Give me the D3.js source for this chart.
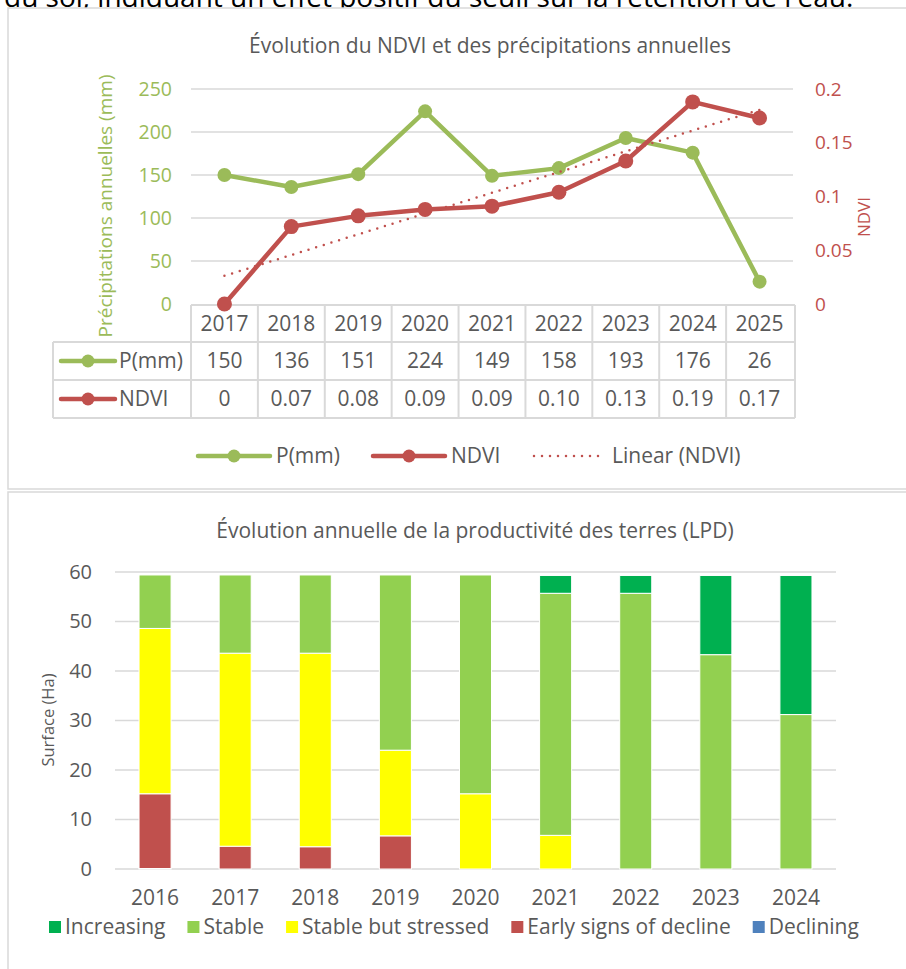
<!DOCTYPE html>
<html>
<head>
<meta charset="utf-8">
<script src="https://cdn.jsdelivr.net/npm/d3@7"></script>
<style>
  body { margin: 0; background: #fff; }
  text { font-family: "Open Sans", sans-serif; fill: #595959; }
</style>
</head>
<body>
<script>
// ---- data ----
var ndviYears = ["2017", "2018", "2019", "2020", "2021", "2022", "2023", "2024", "2025"];
var precip = [150, 136, 151, 224, 149, 158, 193, 176, 26];
var ndvi = [0, 0.072, 0.082, 0.088, 0.091, 0.104, 0.133, 0.188, 0.173];
var precipTicks = [0, 50, 100, 150, 200, 250];
var ndviTicks = [0, 0.05, 0.1, 0.15, 0.2];

var lpdYears = ["2016", "2017", "2018", "2019", "2020", "2021", "2022", "2023", "2024"];
var increasing = [0, 0, 0, 0, 0, 3.6, 3.6, 16.0, 28.1];
var stable = [10.8, 15.8, 15.8, 35.4, 44.2, 48.9, 55.7, 43.3, 31.2];
var stressed = [33.4, 39.0, 39.1, 17.3, 15.2, 6.8, 0, 0, 0];
var earlyDecline = [15.1, 4.6, 4.5, 6.7, 0, 0, 0, 0, 0];
var declining = [0.1, 0, 0, 0, 0, 0, 0, 0, 0];
var lpdClasses = ["Increasing", "Stable", "Stable but stressed", "Early signs of decline", "Declining"];
var lpdColors = ["#00B050", "#92D050", "#FFFF00", "#C0504D", "#4F81BD"];

var green = "#9BBB59";
var red = "#C0504D";
var grid = "#D9D9D9";

var svgWidth = 906;
var svgHeight = 969;

var svg = d3.select("body")
    .append("svg")
    .attr("width", svgWidth)
    .attr("height", svgHeight);

// text from the page above, cut off at the top
svg.append("text")
    .attr("x", 4)
    .attr("y", 7)
    .style("fill", "#000")
    .style("font-size", "28px")
    .text("du sol, indiquant un effet positif du seuil sur la rétention de l'eau.");

// panels
svg.append("rect").attr("x", 8).attr("y", 8).attr("width", 910).attr("height", 481)
    .attr("fill", "#fff").attr("stroke", grid).attr("stroke-width", 1.5);
svg.append("rect").attr("x", 8).attr("y", 492).attr("width", 910).attr("height", 490)
    .attr("fill", "#fff").attr("stroke", grid).attr("stroke-width", 1.5);

// ============ CHART 1 : NDVI + precipitation ============
var x1 = d3.scaleBand().domain(ndviYears).range([191, 793]);
var yP = d3.scaleLinear().domain([0, 250]).range([304, 89]);
var yN = d3.scaleLinear().domain([0, 0.2]).range([304, 89]);

svg.append("text")
    .attr("x", 490).attr("y", 53)
    .attr("text-anchor", "middle")
    .style("font-size", "21px")
    .text("Évolution du NDVI et des précipitations annuelles");

// gridlines
svg.append("g").selectAll("line")
    .data(precipTicks.slice(1))
    .enter().append("line")
    .attr("x1", 191).attr("x2", 793)
    .attr("y1", d => yP(d)).attr("y2", d => yP(d))
    .attr("stroke", grid).attr("stroke-width", 1.5);

// left axis
var leftAxis = d3.axisLeft(yP).tickValues(precipTicks).tickSize(0).tickPadding(19);
var leftG = svg.append("g").attr("transform", "translate(191,0)").call(leftAxis);
leftG.select(".domain").remove();
leftG.selectAll("text").style("fill", green).style("font-size", "19.5px").attr("font-family", null);

// right axis
var rightAxis = d3.axisRight(yN).tickValues(ndviTicks).tickSize(0).tickPadding(22).tickFormat(d3.format("~g"));
var rightG = svg.append("g").attr("transform", "translate(793,0)").call(rightAxis);
rightG.select(".domain").remove();
rightG.selectAll("text").style("fill", red).style("font-size", "19px").attr("font-family", null);

svg.append("text")
    .attr("transform", "translate(112,206) rotate(-90)")
    .attr("text-anchor", "middle")
    .style("fill", green).style("font-size", "19px")
    .text("Précipitations annuelles (mm)");

svg.append("text")
    .attr("transform", "translate(870,217) rotate(-90)")
    .attr("text-anchor", "middle")
    .style("fill", red).style("font-size", "17px")
    .text("NDVI");

// data table
var rowTop = [305, 342, 380, 418];
var tableG = svg.append("g");
tableG.append("line").attr("x1", 191).attr("x2", 795).attr("y1", rowTop[0]).attr("y2", rowTop[0]);
[1, 2, 3].forEach(i => {
    tableG.append("line").attr("x1", 53).attr("x2", 795).attr("y1", rowTop[i]).attr("y2", rowTop[i]);
});
ndviYears.forEach(function (yr) {
    var xl = x1(yr);
    tableG.append("line").attr("x1", xl).attr("x2", xl).attr("y1", rowTop[0]).attr("y2", rowTop[3]);
});
tableG.append("line").attr("x1", 795).attr("x2", 795).attr("y1", rowTop[0]).attr("y2", rowTop[3]);
tableG.append("line").attr("x1", 53).attr("x2", 53).attr("y1", rowTop[1]).attr("y2", rowTop[3]);
tableG.selectAll("line").attr("stroke", grid).attr("stroke-width", 2);

tableG.selectAll(".yr").data(ndviYears).enter().append("text")
    .attr("x", d => x1(d) + x1.bandwidth() / 2)
    .attr("y", (rowTop[0] + rowTop[1]) / 2)
    .attr("dy", "0.35em").attr("text-anchor", "middle")
    .style("font-size", "21px")
    .text(d => d);

tableG.selectAll(".pv").data(precip).enter().append("text")
    .attr("x", (d, i) => x1(ndviYears[i]) + x1.bandwidth() / 2)
    .attr("y", (rowTop[1] + rowTop[2]) / 2)
    .attr("dy", "0.35em").attr("text-anchor", "middle")
    .style("font-size", "21px")
    .text(d => d);

tableG.selectAll(".nv").data(ndvi).enter().append("text")
    .attr("x", (d, i) => x1(ndviYears[i]) + x1.bandwidth() / 2)
    .attr("y", (rowTop[2] + rowTop[3]) / 2)
    .attr("dy", "0.35em").attr("text-anchor", "middle")
    .style("font-size", "21px")
    .text(d => d === 0 ? "0" : d.toFixed(2));

function legendKey(g, x, y, color, label, len, gap, dotted) {
    if (dotted) {
        g.append("line").attr("x1", x).attr("x2", x + len).attr("y1", y).attr("y2", y)
            .attr("stroke", color).attr("stroke-width", 2.5)
            .attr("stroke-dasharray", "0,8").attr("stroke-linecap", "round");
    } else {
        g.append("line").attr("x1", x).attr("x2", x + len).attr("y1", y).attr("y2", y)
            .attr("stroke", color).attr("stroke-width", 4.5).attr("stroke-linecap", "round");
        g.append("circle").attr("cx", x + len / 2).attr("cy", y).attr("r", 6.5).attr("fill", color);
    }
    g.append("text").attr("x", x + len + gap).attr("y", y).attr("dy", "0.35em")
        .style("font-size", "21px").text(label);
}

legendKey(tableG, 61, (rowTop[1] + rowTop[2]) / 2, green, "P(mm)", 54, 4);
legendKey(tableG, 61, (rowTop[2] + rowTop[3]) / 2, red, "NDVI", 54, 4);

// lines
var cx = d => x1(d) + x1.bandwidth() / 2;

var precipLine = d3.line().x((d, i) => cx(ndviYears[i])).y(d => yP(d));
var ndviLine = d3.line().x((d, i) => cx(ndviYears[i])).y(d => yN(d));

svg.append("path").datum(precip)
    .attr("d", precipLine).attr("fill", "none")
    .attr("stroke", green).attr("stroke-width", 4.5).attr("stroke-linejoin", "round");
svg.append("g").selectAll("circle").data(precip).enter().append("circle")
    .attr("cx", (d, i) => cx(ndviYears[i])).attr("cy", d => yP(d)).attr("r", 7).attr("fill", green);

svg.append("path").datum(ndvi)
    .attr("d", ndviLine).attr("fill", "none")
    .attr("stroke", red).attr("stroke-width", 4.5).attr("stroke-linejoin", "round");
svg.append("g").selectAll("circle").data(ndvi).enter().append("circle")
    .attr("cx", (d, i) => cx(ndviYears[i])).attr("cy", d => yN(d)).attr("r", 7.5).attr("fill", red);

// linear trend of NDVI (least squares, x = 1..n)
var n = ndvi.length;
var xs = d3.range(1, n + 1);
var mx = d3.mean(xs), my = d3.mean(ndvi);
var slope = d3.sum(xs, (xv, i) => (xv - mx) * (ndvi[i] - my)) / d3.sum(xs, xv => (xv - mx) * (xv - mx));
var icpt = my - slope * mx;
svg.append("line")
    .attr("x1", cx(ndviYears[0])).attr("y1", yN(icpt + slope * 1))
    .attr("x2", cx(ndviYears[n - 1])).attr("y2", yN(icpt + slope * n))
    .attr("stroke", red).attr("stroke-width", 2.5)
    .attr("stroke-dasharray", "0,8").attr("stroke-linecap", "round");

// bottom legend
var leg1 = svg.append("g");
legendKey(leg1, 198, 456, green, "P(mm)", 72, 6);
legendKey(leg1, 373, 456, red, "NDVI", 72, 6);
legendKey(leg1, 534, 456, red, "Linear (NDVI)", 70, 8, true);

// ============ CHART 2 : LPD stacked bars ============
var x2 = d3.scaleBand().domain(lpdYears).range([115, 836]).paddingInner(0.6).paddingOuter(0.3);
var y2 = d3.scaleLinear().domain([0, 60]).range([869, 572]);

svg.append("text")
    .attr("x", 475).attr("y", 538)
    .attr("text-anchor", "middle")
    .style("font-size", "21px")
    .text("Évolution annuelle de la productivité des terres (LPD)");

svg.append("g").selectAll("line")
    .data(y2.ticks(6))
    .enter().append("line")
    .attr("x1", 115).attr("x2", 836)
    .attr("y1", d => y2(d)).attr("y2", d => y2(d))
    .attr("stroke", grid).attr("stroke-width", 1.5);

var axisL2 = d3.axisLeft(y2).ticks(6).tickSize(0).tickPadding(23);
var l2 = svg.append("g").attr("transform", "translate(115,0)").call(axisL2);
l2.select(".domain").remove();
l2.selectAll("text").style("font-size", "20px").attr("font-family", null);

var axisB2 = d3.axisBottom(x2).tickSize(0).tickPadding(21);
var b2 = svg.append("g").attr("transform", "translate(0,869)").call(axisB2);
b2.select(".domain").remove();
b2.selectAll("text").style("font-size", "21px").attr("font-family", null);

svg.append("text")
    .attr("transform", "translate(54,720) rotate(-90)")
    .attr("text-anchor", "middle")
    .style("font-size", "16.5px")
    .text("Surface (Ha)");

var table2 = lpdYears.map((yr, i) => ({
    year: yr,
    "Declining": declining[i],
    "Early signs of decline": earlyDecline[i],
    "Stable but stressed": stressed[i],
    "Stable": stable[i],
    "Increasing": increasing[i]
}));
var stackOrder = ["Declining", "Early signs of decline", "Stable but stressed", "Stable", "Increasing"];
var series = d3.stack().keys(stackOrder)(table2);
var colorOf = d3.scaleOrdinal().domain(lpdClasses).range(lpdColors);

svg.append("g").selectAll("g")
    .data(series)
    .enter().append("g")
    .attr("fill", s => colorOf(s.key))
    .selectAll("rect")
    .data(s => s.filter(d => d[1] - d[0] > 0))
    .enter().append("rect")
    .attr("x", d => x2(d.data.year))
    .attr("width", x2.bandwidth())
    .attr("y", d => y2(d[1]))
    .attr("height", d => y2(d[0]) - y2(d[1]))
    .attr("stroke", "#fff").attr("stroke-width", 1);

// legend
var leg2 = svg.append("g");
var lx = 49;
lpdClasses.forEach(function (c, i) {
    leg2.append("rect").attr("x", lx).attr("y", 921).attr("width", 12).attr("height", 12).attr("fill", lpdColors[i]);
    var t = leg2.append("text").attr("x", lx + 16).attr("y", 927).attr("dy", "0.35em")
        .style("font-size", "21px").text(c);
    lx += 16 + t.node().getComputedTextLength() + 22;
});
</script>
</body>
</html>
